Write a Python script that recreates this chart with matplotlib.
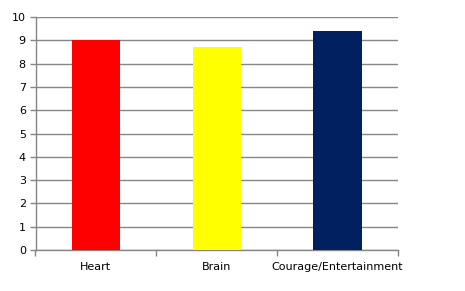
import matplotlib.pyplot as plt
import numpy as np

categories = ['Heart', 'Brain', 'Courage/Entertainment']
values = [9.0, 8.72, 9.4]
bar_colors = ['#ff0000', '#ffff00', '#002060']

fig = plt.figure(figsize=(4.65, 2.91), dpi=100)
ax = fig.add_axes([35.5 / 465, 41 / 291, 362.5 / 465, 233 / 291])

x = np.arange(len(categories))
ax.bar(x, values, width=0.4, color=bar_colors, zorder=3)

ax.set_xlim(-0.5, len(categories) - 0.5)
ax.set_ylim(0, 10)
ax.set_yticks(range(0, 11))
ax.set_xticks(x)
ax.set_xticklabels(categories)
ax.set_xticks(np.arange(-0.5, len(categories)), minor=True)

grid_color = '#868686'
ax.yaxis.grid(True, color=grid_color, linewidth=1, zorder=0)
for side in ['top', 'right']:
    ax.spines[side].set_visible(False)
for side in ['left', 'bottom']:
    ax.spines[side].set_color(grid_color)
    ax.spines[side].set_linewidth(1)

ax.tick_params(axis='x', which='major', length=0, pad=9, labelsize=8)
ax.tick_params(axis='x', which='minor', length=4, color=grid_color, width=1)
ax.tick_params(axis='y', length=4, color=grid_color, width=1, labelsize=8, pad=3)

fig.savefig('out.png', dpi=100)
